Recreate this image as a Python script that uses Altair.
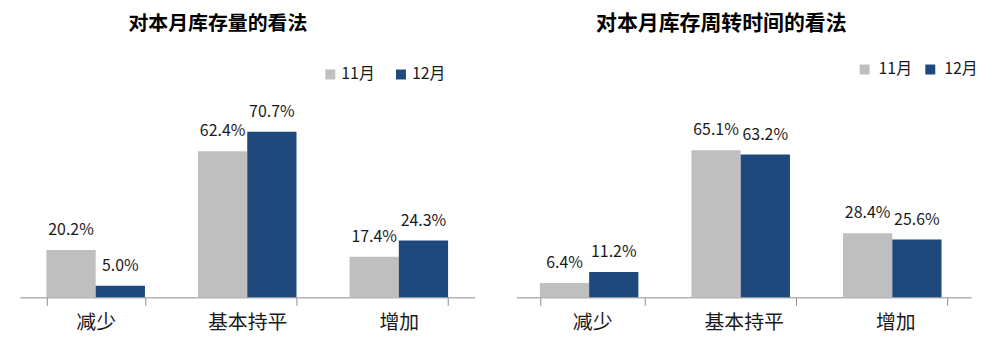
import altair as alt
import pandas as pd

FONT = "Noto Sans CJK SC"

categories = ["减少", "基本持平", "增加"]
months = ["11月", "12月"]
colors = ["#BFBFBF", "#1F497D"]

title_left = "对本月库存量的看法"
nov_left = [0.202, 0.624, 0.174]
dec_left = [0.050, 0.707, 0.243]

title_right = "对本月库存周转时间的看法"
nov_right = [0.064, 0.651, 0.284]
dec_right = [0.112, 0.632, 0.256]


def make_df(nov, dec):
    rows = []
    for c, a, b in zip(categories, nov, dec):
        rows.append({"cat": c, "month": months[0], "v": a})
        rows.append({"cat": c, "month": months[1], "v": b})
    return pd.DataFrame(rows)


def panel(title, nov, dec, pad_inner, ymax, leg_x, leg_y, col_pad, lab_off, title_x, title_size):
    df = make_df(nov, dec)
    xenc = alt.X(
        "cat:N",
        sort=categories,
        scale=alt.Scale(paddingInner=pad_inner, paddingOuter=pad_inner / 2),
        axis=alt.Axis(
            title=None,
            labelAngle=0,
            labelFont=FONT,
            labelFontSize=20,
            labelColor="#1a1a1a",
            labelPadding=7,
            domainColor="#8c8c8c",
            tickColor="#8c8c8c",
            tickSize=8,
            tickBand="extent",
            grid=False,
        ),
    )
    xoff = alt.XOffset("month:N", sort=months, scale=alt.Scale(paddingInner=0, paddingOuter=0))
    yenc = alt.Y("v:Q", scale=alt.Scale(domain=[0, ymax]), axis=None)

    bars = alt.Chart(df).mark_bar().encode(
        x=xenc,
        xOffset=xoff,
        y=yenc,
        color=alt.Color(
            "month:N",
            scale=alt.Scale(domain=months, range=colors),
            legend=alt.Legend(
                title=None,
                orient="none",
                legendX=leg_x,
                legendY=leg_y,
                direction="horizontal",
                symbolType="square",
                symbolSize=100,
                symbolStrokeWidth=0,
                labelFont=FONT,
                labelFontSize=16,
                labelColor="#1a1a1a",
                labelOffset=lab_off,
                columnPadding=col_pad,
            ),
        ),
    )
    labels = alt.Chart(df).mark_text(
        baseline="middle", dy=-20, fontSize=16, font=FONT, color="#1a1a1a"
    ).encode(
        x=xenc,
        xOffset=xoff,
        y=yenc,
        text=alt.Text("v:Q", format=".1%"),
    )
    tdata = alt.Data(values=[{"t": title}])
    ttl = alt.Chart(tdata).mark_text(
        fontSize=title_size, fontWeight="bold", font=FONT, color="#000000",
        align="center", baseline="middle",
    ).encode(x=alt.value(title_x), y=alt.value(-75), text="t:N")

    return alt.layer(bars, labels, ttl).properties(width=457, height=200)


left = panel(title_left, nov_left, dec_left, 0.35, 0.85, 304, -32, 18, 3, 199, 20)
right = panel(title_right, nov_right, dec_right, 0.31, 0.88, 342, -37, 10, 6, 206, 21)

chart = (
    alt.hconcat(left, right, spacing=42)
    .resolve_scale(x="independent", y="independent", color="independent")
    .resolve_legend(color="independent")
    .properties(padding={"left": 20, "top": 12, "right": 8, "bottom": 10}, background="white")
    .configure_view(stroke=None)
)

chart.save("out.html", embed_options={"renderer": "svg", "actions": False})
